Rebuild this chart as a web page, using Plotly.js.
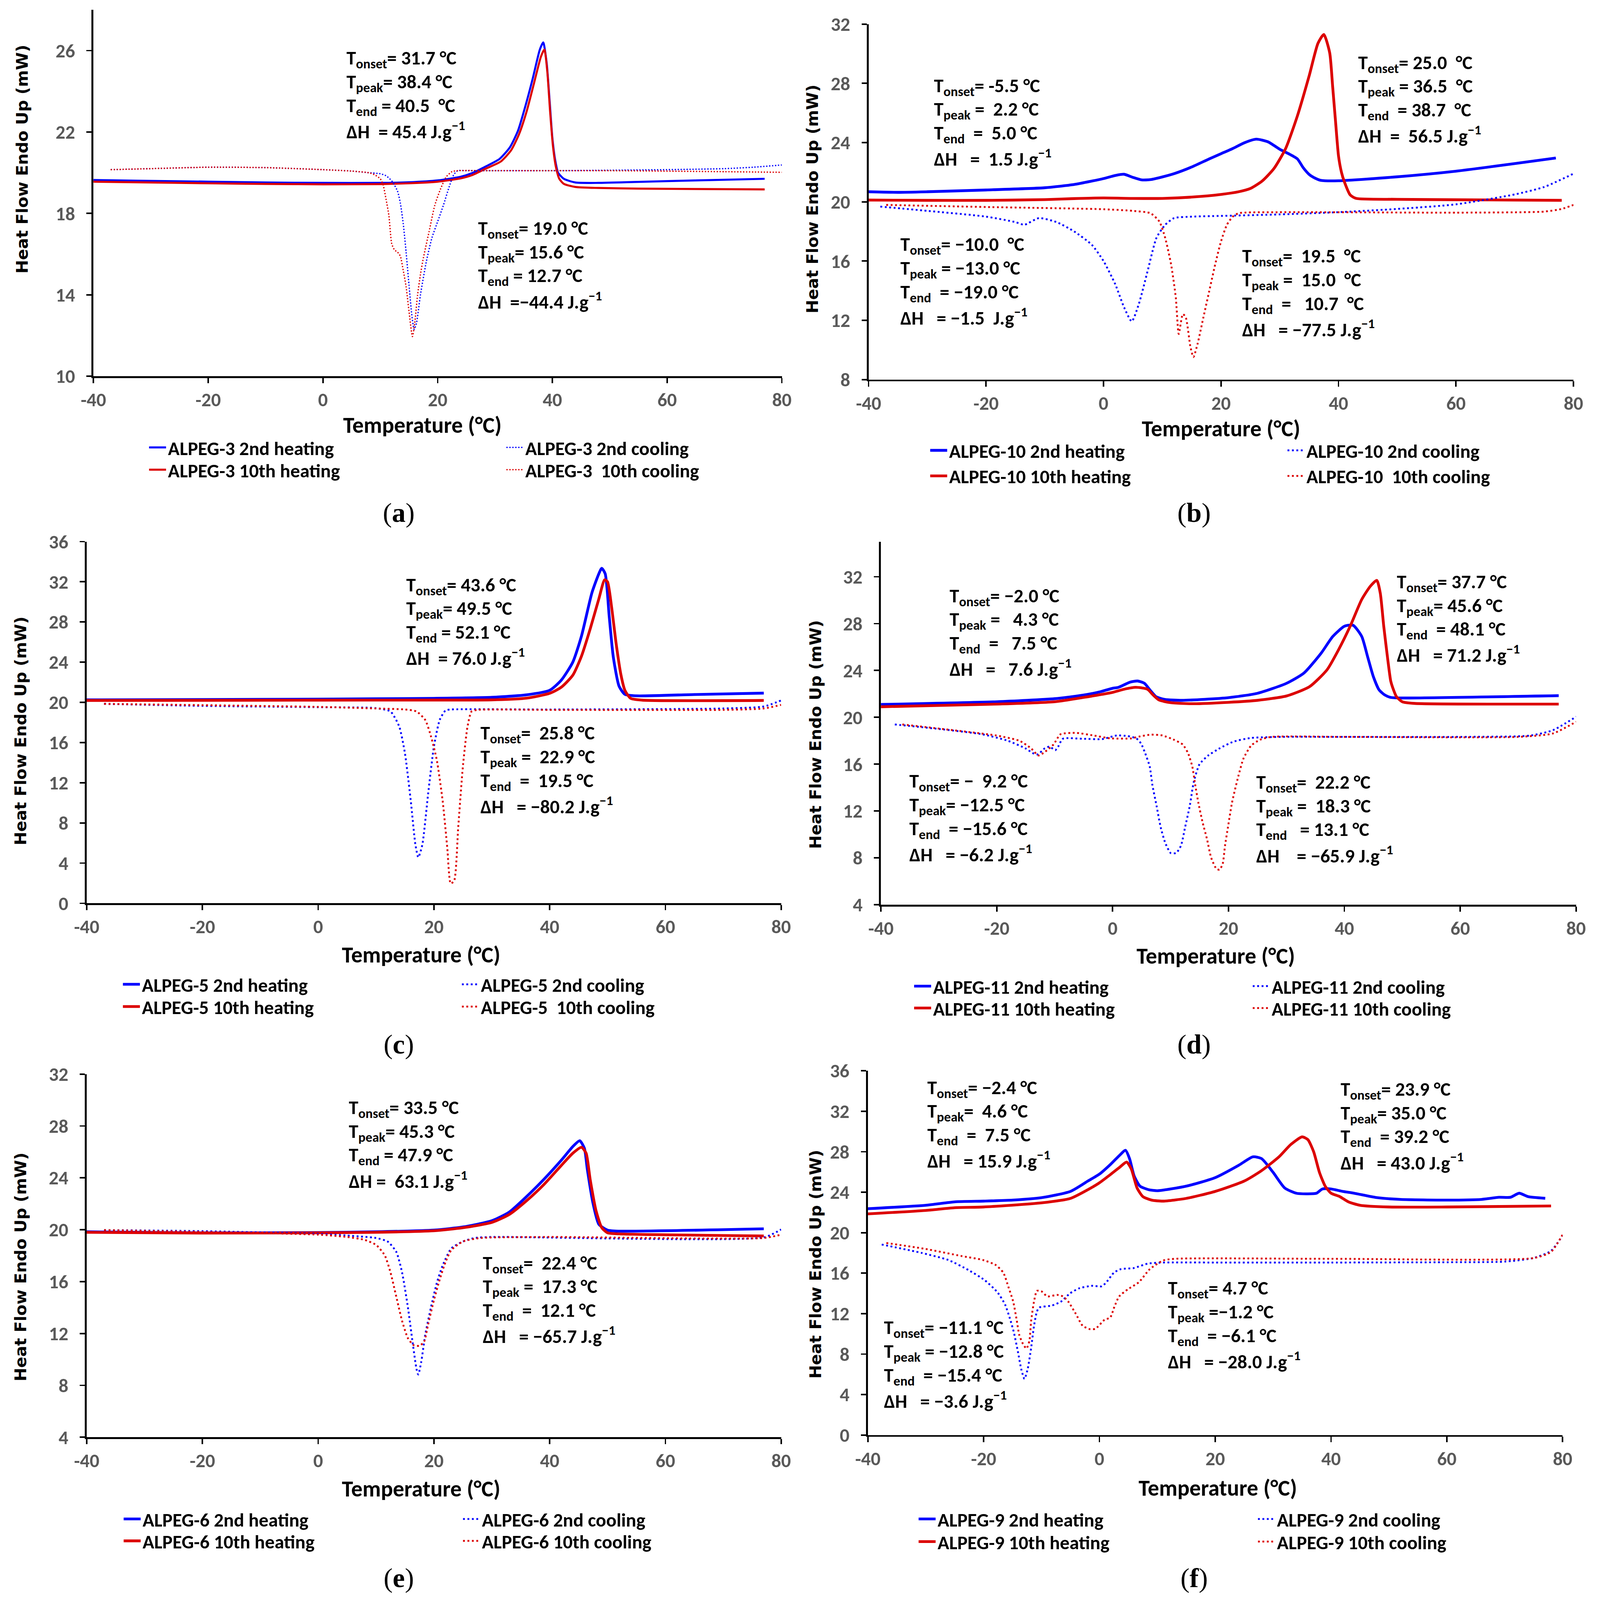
<!DOCTYPE html>
<html><head><meta charset="utf-8">
<script src="https://cdn.plot.ly/plotly-3.0.1.min.js"></script>
<style>html,body{margin:0;padding:0;background:#fff;overflow:hidden}</style>
</head><body>
<div id="chart"></div>
<script>
// ---------------- DATA ----------------
const xTickVals = [-40,-20,0,20,40,60,80];
const xTickText = ['-40','-20','0','20','40','60','80'];

// (a) ALPEG-3
const a_h2_x = [-40,-30,-20,-10,0,10,15,20,24,26,28.2,30.8,32.6,34.0,35.3,36.6,37.8,38.4,39.0,39.5,40.0,40.5,41,42,44,48,55,65,77];
const a_h2_y = [19.64,19.6,19.56,19.52,19.5,19.5,19.53,19.62,19.8,19.98,20.28,20.68,21.25,22.06,23.28,24.66,26.04,26.4,25.4,23.6,21.7,20.6,20.0,19.7,19.52,19.5,19.55,19.62,19.7];
const a_h10_x = [-40,-30,-20,-10,0,10,15,20,24,26,28.4,31,32.8,34.2,35.5,36.8,38.0,38.6,39.1,39.6,40.1,40.6,41.2,42,44,48,55,65,77];
const a_h10_y = [19.56,19.52,19.48,19.45,19.43,19.44,19.48,19.56,19.72,19.88,20.2,20.55,21.1,21.9,23.0,24.4,25.7,26.05,25.0,23.0,21.3,20.3,19.7,19.45,19.3,19.25,19.22,19.2,19.18];
const a_c2_x = [-37,-30,-20,-10,0,5,8,10,11,12,13,13.5,14,14.5,15,15.5,15.9,16.3,17,18,19,20,21,22,22.8,23.5,25,30,40,50,60,70,75,80];
const a_c2_y = [20.15,20.2,20.27,20.25,20.15,20.08,20.0,19.95,19.85,19.6,19.1,18.5,17.5,16.1,14.5,13.0,12.3,12.6,14.0,15.6,16.8,17.6,18.4,19.3,19.9,20.1,20.1,20.1,20.1,20.12,20.15,20.2,20.27,20.38];
const a_c10_x = [-37,-30,-20,-10,0,5,8,9,10,10.5,11,11.5,12,12.5,13,13.5,14,14.5,15,15.6,16,16.5,17,17.5,18.5,19.5,20.5,21.5,22.5,23.5,30,50,70,80];
const a_c10_y = [20.15,20.2,20.27,20.25,20.15,20.08,20.0,19.9,19.7,19.4,18.7,17.9,16.5,16.2,16.1,15.9,15.2,14.4,13.2,11.95,12.6,14.0,15.0,15.8,17.1,18.4,19.2,19.8,20.05,20.1,20.1,20.1,20.05,20.02];

// (b) ALPEG-10
const b_h2_x = [-40,-35,-30,-20,-10,-5,-2,0,2,3.5,5,6.5,8,10,12,15,18,20,22,24,26,28,30,31.5,33,34,35,36,37,40,50,60,70,77];
const b_h2_y = [20.68,20.64,20.68,20.8,20.95,21.17,21.4,21.57,21.78,21.86,21.65,21.48,21.5,21.68,21.9,22.35,22.9,23.25,23.6,23.99,24.23,24.05,23.55,23.25,22.9,22.3,21.85,21.6,21.45,21.42,21.69,22.07,22.58,22.96];
const b_h10_x = [-40,-30,-20,-10,-5,0,5,10,15,20,23,25,27,29,31,33,35,36.5,37.5,38.5,39,39.5,40,40.5,41,42,43,50,60,70,78];
const b_h10_y = [20.12,20.1,20.1,20.15,20.22,20.26,20.23,20.23,20.32,20.5,20.68,20.9,21.4,22.24,23.6,25.8,28.5,30.7,31.3,30.06,27.8,25.4,23.1,22.0,21.35,20.46,20.23,20.17,20.14,20.12,20.1];
const b_c2_x = [-38,-30,-20,-15,-13.5,-11,-8,-5,-2,0,2,3.5,4.8,6,7.5,9,10.5,12,15,20,30,40,50,60,70,75,80];
const b_c2_y = [19.68,19.39,19.0,18.63,18.45,18.9,18.63,18.0,17.1,16.0,14.43,12.87,11.93,13.09,15.32,17.56,18.45,18.9,19.0,19.05,19.15,19.3,19.52,19.83,20.5,21.0,21.9];
const b_c10_x = [-37,-20,0,5,8,9.5,10.5,11.5,12.3,12.8,13.5,14,14.8,15.3,16,17,18,19,20,21,22,23,30,60,75,78,80];
const b_c10_y = [19.79,19.65,19.5,19.39,19.23,18.67,17.56,15.77,13.54,11.08,12.42,12.2,10.19,9.52,10.4,12.2,13.98,15.77,17.33,18.45,19.0,19.23,19.3,19.27,19.34,19.52,19.79];

// (c) ALPEG-5
const c_h2_x = [-40,-20,0,20,30,36,40,42,44,45.5,47.3,48.5,49,49.6,50.3,51,52,53,55,65,77];
const c_h2_y = [20.25,20.28,20.32,20.4,20.5,20.75,21.2,22.2,24.0,26.6,30.9,32.8,33.35,32.8,28.5,24.5,21.6,20.8,20.65,20.78,20.92];
const c_h10_x = [-40,-20,0,20,30,36,40,42,44,45.5,47,48.5,49.5,50,50.7,51.5,52.3,53,54,56,77];
const c_h10_y = [20.19,20.2,20.22,20.23,20.25,20.42,20.9,21.5,22.7,24.6,27.3,30.3,32.2,32.0,29.5,25.8,22.8,21.2,20.4,20.22,20.19];
const c_c2_x = [-37,-20,0,10,12.5,14,15,16,16.8,17.3,18,19,20,21,22,23,40,70,77,80];
const c_c2_y = [19.85,19.65,19.52,19.42,19.09,17.6,14.9,10.2,5.84,4.57,5.84,10.9,15.6,18.25,19.19,19.29,19.29,19.39,19.59,20.19];
const c_c10_x = [-37,0,10,15,17,18.5,19.5,20.5,21.5,22.3,22.9,23.5,24.2,25,25.8,26.5,27.5,40,70,77,80];
const c_c10_y = [19.85,19.55,19.39,19.29,19.09,18.25,16.6,14.25,10.24,5.57,1.97,2.24,7.57,13.58,17.58,19.09,19.25,19.25,19.25,19.39,19.75];

// (d) ALPEG-11
const d_h2_x = [-40,-20,-10,-5,-2,0,1,3,4.3,5.5,6.5,7.5,9,12,20,25,30,33,36,38,40,41.5,43,44,45,46,47,48,50,77];
const d_h2_y = [21.1,21.33,21.59,21.9,22.2,22.48,22.56,23.0,23.1,22.9,22.3,21.76,21.53,21.45,21.68,22.05,22.9,23.77,25.48,26.9,27.77,27.86,26.9,25.2,23.48,22.34,21.9,21.7,21.65,21.85];
const d_h10_x = [-40,-20,-10,-5,0,2,4,6,7,8,10,14,20,25,30,34,37,39,41,43,44.5,45.6,46.2,46.8,47.5,48,48.3,49,50,52,77];
const d_h10_y = [20.9,21.13,21.33,21.7,22.13,22.4,22.56,22.4,21.9,21.48,21.25,21.16,21.28,21.45,21.82,22.62,24.05,25.77,27.77,30.06,31.2,31.69,30.6,27.77,24.9,23.1,22.6,21.76,21.33,21.19,21.13];
const d_c2_x = [-37.6,-29.9,-22.5,-18.1,-15.1,-13.6,-12.9,-11.7,-10.9,-9.9,-9.4,-8.6,-5.2,-1.8,0.7,2.6,4.1,4.9,5.6,6.4,6.85,7.6,8.3,9.1,10.05,11.0,11.8,12.5,13.3,14.0,15.0,16.5,18.5,20.9,23.9,29.3,40,60,72,76,80];
const d_c2_y = [19.39,19.0,18.55,18.0,17.36,16.9,16.84,17.36,17.5,17.2,17.5,18.17,18.17,18.14,18.45,18.4,18.2,17.77,16.96,15.8,14.25,12.4,10.6,9.26,8.4,8.43,9.05,10.6,12.4,14.47,16.0,16.74,17.36,17.93,18.24,18.33,18.33,18.33,18.44,18.9,20.05];
const d_c10_x = [-36.3,-27.5,-20.1,-16.1,-14.1,-12.8,-11.7,-10.2,-9.0,-6.3,-3.3,-0.3,3.2,4.6,6.6,8.6,10.6,12.1,13.0,13.75,14.25,14.8,15.5,16.3,17.0,17.9,18.45,19.0,19.4,19.9,20.6,21.7,22.6,23.9,25.4,27.4,40,70,76,80];
const d_c10_y = [19.39,18.9,18.45,18.0,17.36,16.74,17.05,17.68,18.55,18.67,18.45,18.2,18.2,18.36,18.52,18.45,18.08,17.68,16.96,15.8,14.25,12.7,11.1,9.58,8.02,7.08,6.99,7.5,9.05,10.6,12.7,14.98,16.5,17.58,18.08,18.33,18.33,18.33,18.62,19.62];

// (e) ALPEG-6
const e_h2_x = [-40,-20,0,10,20,25,30,33,36,39,42,44,45.2,46,46.5,47.5,48.5,50,52,77];
const e_h2_y = [19.84,19.76,19.78,19.84,19.97,20.21,20.69,21.35,22.55,23.88,25.35,26.41,26.86,26.28,24.68,22.02,20.42,19.97,19.89,20.07];
const e_h10_x = [-40,-20,0,10,20,25,30,33,36,39,42,44,45.5,46.3,47,48,49,50,52,77];
const e_h10_y = [19.8,19.74,19.76,19.8,19.92,20.15,20.56,21.17,22.23,23.48,24.95,25.9,26.36,25.9,23.88,21.49,20.16,19.76,19.68,19.52];
const e_c2_x = [-37,-20,0,5,10,12,13.5,14.5,15.5,16.3,17,17.3,17.8,18.5,19.5,20.5,21.5,23,25,27,30,77,80];
const e_c2_y = [19.97,19.89,19.68,19.55,19.36,19.09,18.29,16.7,14.03,11.37,9.24,8.84,9.78,11.9,14.03,15.9,17.23,18.56,19.09,19.36,19.44,19.41,20.02];
const e_c10_x = [-37,0,5,8,10,11.5,12.5,13.5,14.5,15.5,16.5,17.5,18.3,19,20,21,22,23,25,28,40,77,80];
const e_c10_y = [19.97,19.62,19.44,19.22,18.83,18.03,16.7,14.83,12.97,11.64,11.1,11.05,11.37,12.7,14.57,16.16,17.5,18.43,19.09,19.36,19.44,19.36,19.62];

// (f) ALPEG-9
const f_h2_x = [-40,-30,-25,-20,-15,-10,-5,-2,0,2,3.5,4.5,5.2,6,7,8.5,10,15,20,24,26.5,28,30,32,34,36,37.5,38.5,40,42,44,48,52,60,66,69,71,72.5,74,77];
const f_h2_y = [22.37,22.71,23.05,23.12,23.22,23.46,24.08,25.1,25.79,26.8,27.66,28.14,27.32,25.6,24.6,24.25,24.15,24.6,25.44,26.64,27.5,27.32,25.96,24.42,23.9,23.84,23.9,24.32,24.32,24.08,23.9,23.46,23.29,23.22,23.29,23.5,23.5,23.9,23.57,23.4];
const f_h10_x = [-40,-30,-25,-20,-10,-5,-2,0,2,3.5,4.7,5.5,6.5,7.5,9,11,15,20,25,28,31,33,35,36,37,38,39,40,41.5,43,45,50,60,78];
const f_h10_y = [21.86,22.2,22.47,22.54,22.95,23.39,24.25,24.93,25.79,26.47,26.98,26.3,24.42,23.57,23.22,23.12,23.39,24.08,25.1,26.13,27.49,28.69,29.47,29.2,28.0,25.96,24.59,23.9,23.57,23.05,22.71,22.54,22.54,22.64];
const f_c2_x = [-37.6,-30.7,-26.1,-22.6,-19.8,-17.6,-16.3,-15.4,-14.8,-14.1,-13.5,-12.95,-12.4,-11.8,-11.3,-10.8,-10.4,-8.2,-6.6,-5.1,-3.5,-1.3,0.4,1.2,2.5,3.7,5.9,8.4,11,20,40,60,70,75,78,80];
const f_c2_y = [18.83,18.0,17.3,16.3,15.3,14.1,12.9,11.4,10.2,8.3,6.5,5.55,6.5,8.6,10.8,12.2,12.6,12.8,13.2,14.0,14.5,14.75,14.7,15.1,16.05,16.4,16.5,16.95,17.05,17.05,17.05,17.08,17.14,17.5,18.2,19.74];
const f_c10_x = [-36.8,-30.1,-23.9,-20.1,-17.9,-16.6,-15.7,-14.9,-14.3,-13.85,-13.2,-12.6,-12.1,-11.8,-11.3,-10.8,-10.0,-9.0,-7.3,-6.3,-5.4,-4.1,-2.9,-1.6,-0.7,0.9,1.85,2.6,3.4,4.9,6.8,8.7,11,13,40,75,78,80];
const f_c10_y = [18.98,18.4,17.7,17.3,16.8,16.05,14.6,13.2,11.4,9.9,9.0,8.55,9.3,11.25,13.2,14.25,14.2,13.7,13.85,13.7,13.2,12.0,10.8,10.46,10.5,11.4,11.6,12.7,13.7,14.4,15.1,16.4,17.25,17.42,17.42,17.49,18.1,19.81];

// legend names
const NB = '\u00A0', ZW = '\u200B';
const a_names = ['ALPEG-3 2nd heating','ALPEG-3 10th heating','ALPEG-3 2nd cooling','ALPEG-3 '+NB+'10th cooling'];
const b_names = ['ALPEG-10 2nd heating','ALPEG-10 10th heating','ALPEG-10 2nd cooling','ALPEG-10 '+NB+'10th cooling'];
const c_names = ['ALPEG-5 2nd heating','ALPEG-5 10th heating','ALPEG-5 2nd cooling','ALPEG-5 '+NB+'10th cooling'];
const d_names = ['ALPEG-11 2nd heating','ALPEG-11 10th heating','ALPEG-11 2nd cooling','ALPEG-11 10th cooling'];
const e_names = ['ALPEG-6 2nd heating','ALPEG-6 10th heating','ALPEG-6 2nd cooling','ALPEG-6 10th cooling'];
const f_names = ['ALPEG-9 2nd heating','ALPEG-9 10th heating','ALPEG-9 2nd cooling','ALPEG-9 10th cooling'];

// annotation texts
function L(a,b,c,d){return [
  'T<sub>onset</sub>='+a.replace(/ /g,NB),
  'T<sub>peak</sub>'+b.replace(/ /g,NB),
  'T<sub>end</sub>'+c.replace(/ /g,NB),
  'ΔH'+d.replace(/ /g,NB)+' J.g<sup>−1</sup>'];}
const a_heat_txt = L(' 31.7 °C', '= 38.4 °C', ' = 40.5  °C', '  = 45.4');
const a_cool_txt = L(' 19.0 °C', '= 15.6 °C', ' = 12.7 °C', '  =−44.4');
const b_heatL_txt = L(' -5.5 °C', ' =  2.2 °C', '  =  5.0 °C', '   =  1.5');
const b_heatR_txt = L(' 25.0  °C', ' = 36.5  °C', '  = 38.7  °C', '  =  56.5');
const b_coolL_txt = L(' −10.0  °C', ' = −13.0 °C', '  = −19.0 °C', '   = −1.5 ');
const b_coolR_txt = L('  19.5  °C', ' =  15.0  °C', '  =   10.7  °C', '   = −77.5');
const c_heat_txt = L(' 43.6 °C', '= 49.5 °C', ' = 52.1 °C', '  = 76.0');
const c_cool_txt = L('  25.8 °C', ' =  22.9 °C', '  =  19.5 °C', '   = −80.2');
const d_heatL_txt = L(' −2.0 °C', ' =   4.3 °C', '  =   7.5 °C', '   =   7.6');
const d_heatR_txt = L(' 37.7 °C', '= 45.6 °C', '  = 48.1 °C', '   = 71.2');
const d_coolL_txt = L(' −  9.2 °C', '= −12.5 °C', '  = −15.6 °C', '   = −6.2');
const d_coolR_txt = L('  22.2 °C', ' =  18.3 °C', '   = 13.1 °C', '    = −65.9');
const e_heat_txt = L(' 33.5 °C', '= 45.3 °C', ' = 47.9 °C', ' =  63.1');
const e_cool_txt = L('  22.4 °C', ' =  17.3 °C', '  =  12.1 °C', '   = −65.7');
const f_heatL_txt = L(' −2.4 °C', '=  4.6 °C', '  =  7.5 °C', '   = 15.9');
const f_heatR_txt = L(' 23.9 °C', '= 35.0 °C', '  = 39.2 °C', '   = 43.0');
const f_coolL_txt = L(' −11.1 °C', ' = −12.8 °C', '  = −15.4 °C', '   = −3.6');
const f_coolR_txt = L(' 4.7 °C', ' =−1.2 °C', '  = −6.1 °C', '   = −28.0');

const xTitleText = 'Temperature (°C)';
const yTitleText = 'Heat Flow Endo Up (mW)';

// ---------------- LAYOUT CONFIG ----------------
const RW = 4281, RH = 4384;               // reference pixel space
const W = Math.min(window.innerWidth || RW, RW);
const H = Math.min(window.innerHeight || RH, RH);
const sx = W / RW, sy = H / RH, s = (sx + sy) / 2;
document.getElementById('chart').style.width = W + 'px';
document.getElementById('chart').style.height = H + 'px';

const FN = 'Carlito, Liberation Sans, sans-serif';
const BLUE = '#0000ff', RED = '#dc0000';
const px = v => v / RW, py = v => 1 - v / RH;
// guarded padding (zero-width space keeps the padding from being trimmed)
const padT = (txt, lead, trail) => (lead ? ZW + NB.repeat(lead) : '') + txt + (trail ? NB.repeat(trail) + ZW : '');

const panels = [
 {cap:'a', s:[[a_h2_x,a_h2_y],[a_h10_x,a_h10_y],[a_c2_x,a_c2_y],[a_c10_x,a_c10_y]], names:a_names, yr:[10,28], t0:10,
  xd:[250,2092], yd:[27,1031], lw:5.5, dw:3.5, gap:4.5, ys:62, xs:8, xpad:[0,6], ypad:[12,0], legX:[402,1358], legY:[1226,1287], cp:[1067,1405],
  blocks:[[a_heat_txt,4.0,25.58],[a_cool_txt,26.9,17.22]]},
 {cap:'b', s:[[b_h2_x,b_h2_y],[b_h10_x,b_h10_y],[b_c2_x,b_c2_y],[b_c10_x,b_c10_y]], names:b_names, yr:[8,32], t0:8,
  xd:[2324,4210], yd:[66,1040], lw:7.5, dw:5, gap:7, ys:21, xs:8, xpad:[0,0], ypad:[1,0], legX:[2492,3448], legY:[1234,1304], cp:[3195,1405],
  blocks:[[b_heatL_txt,-28.97,27.78],[b_heatR_txt,43.2,29.34],[b_coolL_txt,-34.7,17.06],[b_coolR_txt,23.5,16.26]]},
 {cap:'c', s:[[c_h2_x,c_h2_y],[c_h10_x,c_h10_y],[c_c2_x,c_c2_y],[c_c10_x,c_c10_y]], names:c_names, yr:[0,36], t0:0,
  xd:[232,2090], yd:[1484,2475], lw:7.5, dw:5, gap:7, ys:48, xs:25, xpad:[0,5], ypad:[0,3], legX:[332,1239], legY:[2697,2758], cp:[1067,2862],
  blocks:[[c_heat_txt,15.1,31.6],[c_cool_txt,27.9,16.85]]},
 {cap:'d', s:[[d_h2_x,d_h2_y],[d_h10_x,d_h10_y],[d_c2_x,d_c2_y],[d_c10_x,d_c10_y]], names:d_names, yr:[4,35], t0:4,
  xd:[2357,4217], yd:[1484,2479], lw:7.5, dw:5, gap:7, ys:46, xs:25, xpad:[0,5], ypad:[0,4], legX:[2449,3355], legY:[2702,2762], cp:[3195,2862],
  blocks:[[d_heatL_txt,-28.28,30.29],[d_heatR_txt,48.9,31.49],[d_coolL_txt,-35.24,14.47],[d_coolR_txt,24.67,14.38]]},
 {cap:'e', s:[[e_h2_x,e_h2_y],[e_h10_x,e_h10_y],[e_c2_x,e_c2_y],[e_c10_x,e_c10_y]], names:e_names, yr:[4,32], t0:4,
  xd:[232,2090], yd:[2943,3938], lw:7.5, dw:5, gap:7, ys:48, xs:25, xpad:[0,5], ypad:[0,4], legX:[334,1242], legY:[4162,4222], cp:[1067,4324],
  blocks:[[e_heat_txt,5.15,29.34],[e_cool_txt,28.34,17.36]]},
 {cap:'f', s:[[f_h2_x,f_h2_y],[f_h10_x,f_h10_y],[f_c2_x,f_c2_y],[f_c10_x,f_c10_y]], names:f_names, yr:[0,36], t0:0,
  xd:[2322,4181], yd:[2934,3932], lw:7.5, dw:5, gap:7, ys:11, xs:29, xpad:[1,0], ypad:[0,4], legX:[2461,3369], legY:[4162,4224], cp:[3195,4324],
  blocks:[[f_heatL_txt,-29.87,34.25],[f_heatR_txt,41.5,34.08],[f_coolL_txt,-37.36,10.52],[f_coolR_txt,11.72,14.41]]}
];

const traces = [];
const layout = {width:W, height:H, autosize:false, margin:{l:0,r:0,t:0,b:0},
  paper_bgcolor:'#fff', plot_bgcolor:'#fff', showlegend:true, annotations:[]};

const LEGFONT = 52*s;
let legCount = 0;
panels.forEach((p,i)=>{
  const n = i+1, xs = n===1?'':String(n);
  const xa = 'x'+xs, ya = 'y'+xs;
  const slots = [[0,0],[0,1],[1,0],[1,1]];
  const dotDash = (p.dw*s).toFixed(2)+'px,'+(p.gap*s).toFixed(2)+'px';
  const styles = [
    {color:BLUE, dash:'solid', width:p.lw*s},
    {color:RED, dash:'solid', width:p.lw*s},
    {color:BLUE, dash:dotDash, width:p.dw*s},
    {color:RED, dash:dotDash, width:p.dw*s}];
  p.s.forEach((sr,k)=>{
    legCount++;
    const lg = 'legend' + (legCount===1 ? '' : String(legCount));
    layout[lg] = {x:px(p.legX[slots[k][0]]) - 8/W, y:py(p.legY[slots[k][1]]), xanchor:'left', yanchor:'middle',
      orientation:'v', bgcolor:'rgba(0,0,0,0)', borderwidth:0, itemwidth:46*s, traceorder:'normal',
      tracegroupgap:0, font:{family:FN, size:LEGFONT, color:'#000', weight:700}};
    traces.push({type:'scatter', mode:'lines', x:sr[0], y:sr[1], xaxis:xa, yaxis:ya, name:p.names[k],
      line:{color:styles[k].color, width:styles[k].width, dash:styles[k].dash, shape:'spline', smoothing:0.6},
      legend:lg, hoverinfo:'skip'});
  });
  layout['xaxis'+xs] = {domain:[px(p.xd[0]),px(p.xd[1])], anchor:ya, range:[-40,80], tickmode:'array',
    tickvals:xTickVals, ticktext:xTickText, showline:true, linecolor:'#000', linewidth:5*s, ticks:'outside',
    ticklen:14*s, tickwidth:4*s, tickcolor:'#000', showgrid:false, zeroline:false, fixedrange:true,
    ticklabelstandoff:24*sy,
    tickfont:{family:FN, size:52*s, color:'#595959', weight:700},
    title:{text:padT(xTitleText, p.xpad[0], p.xpad[1]), font:{family:FN, size:61*s, color:'#000', weight:700}, standoff:p.xs*sy}};
  layout['yaxis'+xs] = {domain:[py(p.yd[1]),py(p.yd[0])], anchor:xa, range:p.yr, tickmode:'linear',
    tick0:p.t0, dtick:4, showline:true, linecolor:'#000', linewidth:5*s, ticks:'outside', ticklen:14*s,
    tickwidth:4*s, tickcolor:'#000', showgrid:false, zeroline:false, fixedrange:true,
    ticksuffix: NB + '\u2006' + ZW,
    tickfont:{family:FN, size:52*s, color:'#595959', weight:700},
    title:{text:padT(yTitleText, p.ypad[0], p.ypad[1]), font:{family:'DejaVu Sans', size:44*s, color:'#000', weight:700}, standoff:p.ys*sx}};
  p.blocks.forEach(b=>{
    b[0].forEach((t,li)=>{
      layout.annotations.push({xref:xa, yref:ya, x:b[1], y:b[2], xanchor:'left', yanchor:'middle',
        yshift:-li*65*sy, text:t, showarrow:false, font:{family:FN, size:52*s, color:'#000', weight:700}});
    });
  });
  layout.annotations.push({xref:'paper', yref:'paper', x:px(p.cp[0]), y:py(p.cp[1]), xanchor:'center',
    yanchor:'middle', showarrow:false, text:'(<b>'+p.cap+'</b>)',
    font:{family:'Liberation Serif, serif', size:74*s, color:'#000'}});
});

Plotly.newPlot('chart', traces, layout, {staticPlot:true, displayModeBar:false});
</script></body></html>
